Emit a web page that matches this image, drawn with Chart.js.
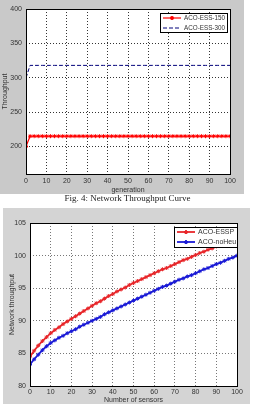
<!DOCTYPE html>
<html>
<head>
<meta charset="utf-8">
<script src="https://cdn.jsdelivr.net/npm/chart.js@4.4.0/dist/chart.umd.min.js"></script>
<style>
    html, body { margin: 0; padding: 0; background: #fff; width: 255px; height: 404px; overflow: hidden; }
    #topBox { position: absolute; left: 0; top: 0; width: 244px; height: 194px; background: #c9c9c9; }
    #botBox { position: absolute; left: 3px; top: 208px; width: 247px; height: 196px; background: #d4d4d4; }
    #caption { position: absolute; left: 0; top: 193px; width: 255px; text-align: center;
               font: 9px "Liberation Serif", serif; color: #222; }
</style>
</head>
<body>
<div id="topBox"><canvas id="topChart" width="244" height="194"></canvas></div>
<div id="caption">Fig. 4: Network Throughput Curve</div>
<div id="botBox"><canvas id="botChart" width="247" height="196"></canvas></div>
<script>
// Fig. 4 - throughput over generations
const generations = [0, 2, 4, 6, 8, 10, 12, 14, 16, 18, 20, 22, 24, 26, 28, 30, 32, 34, 36, 38, 40,
    42, 44, 46, 48, 50, 52, 54, 56, 58, 60, 62, 64, 66, 68, 70, 72, 74, 76, 78, 80,
    82, 84, 86, 88, 90, 92, 94, 96, 98, 100];
const ess150 = [200, 215, 215, 215, 215, 215, 215, 215, 215, 215, 215, 215, 215, 215, 215, 215, 215,
    215, 215, 215, 215, 215, 215, 215, 215, 215, 215, 215, 215, 215, 215, 215, 215, 215,
    215, 215, 215, 215, 215, 215, 215, 215, 215, 215, 215, 215, 215, 215, 215, 215, 215];
const ess300 = [300, 318, 318, 318, 318, 318, 318, 318, 318, 318, 318, 318, 318, 318, 318, 318, 318,
    318, 318, 318, 318, 318, 318, 318, 318, 318, 318, 318, 318, 318, 318, 318, 318, 318,
    318, 318, 318, 318, 318, 318, 318, 318, 318, 318, 318, 318, 318, 318, 318, 318, 318];
const topYTicks = [200, 250, 300, 350, 400];

// second figure - throughput vs number of sensors
const sensors = [0, 2, 4, 6, 8, 10, 12, 14, 16, 18, 20, 22, 24, 26, 28, 30, 32, 34, 36, 38, 40,
    42, 44, 46, 48, 50, 52, 54, 56, 58, 60, 62, 64, 66, 68, 70, 72, 74, 76, 78, 80,
    82, 84, 86, 88, 90, 92, 94, 96, 98, 100];
const essp = [84.5, 85.4, 86.2, 86.9, 87.5, 88.1, 88.6, 89.0, 89.5, 89.9, 90.3, 90.7, 91.1, 91.5,
    91.9, 92.3, 92.7, 93.0, 93.4, 93.8, 94.1, 94.5, 94.8, 95.1, 95.5, 95.8, 96.1, 96.4, 96.7,
    97.0, 97.3, 97.6, 97.9, 98.1, 98.4, 98.7, 99.0, 99.3, 99.5, 99.8, 100.1, 100.4, 100.6,
    100.9, 101.1, 101.4, 101.7, 101.9, 102.2, 102.4, 102.7];
const noHeu = [83.3, 84.1, 84.8, 85.5, 86.1, 86.6, 87.0, 87.4, 87.7, 88.1, 88.4, 88.7, 89.1, 89.4,
    89.7, 90.0, 90.3, 90.6, 91.0, 91.3, 91.6, 91.9, 92.2, 92.5, 92.8, 93.1, 93.4, 93.7, 94.0,
    94.3, 94.6, 94.9, 95.2, 95.4, 95.7, 96.0, 96.3, 96.5, 96.8, 97.0, 97.3, 97.6, 97.9, 98.1,
    98.4, 98.7, 98.9, 99.2, 99.5, 99.7, 100.0];

const tickFont = { family: 'Liberation Sans', size: 7 };

function toPoints(xs, ys) {
    return xs.map((x, i) => ({ x: x, y: ys[i] }));
}

// matlab style box + legend drawn inside the plot
const matlabBox = {
    id: 'matlabBox',
    beforeDraw(chart) {
        const a = chart.chartArea;
        const ctx = chart.ctx;
        ctx.save();
        ctx.fillStyle = '#fff';
        ctx.fillRect(a.left, a.top, a.right - a.left, a.bottom - a.top);
        ctx.restore();
    },
    afterDraw(chart, args, opts) {
        const a = chart.chartArea;
        const ctx = chart.ctx;
        ctx.save();
        ctx.strokeStyle = '#000';
        ctx.lineWidth = 1;
        ctx.strokeRect(Math.round(a.left) + 0.5, Math.round(a.top) + 0.5,
            Math.round(a.right - a.left), Math.round(a.bottom - a.top));

        // legend
        const lg = opts.legend;
        const bx = a.right - lg.right - lg.width;
        const by = a.top + lg.top;
        ctx.fillStyle = '#fff';
        ctx.fillRect(bx, by, lg.width, lg.height);
        ctx.strokeRect(Math.round(bx) + 0.5, Math.round(by) + 0.5, lg.width, lg.height);
        ctx.font = lg.fontSize + 'px "Liberation Sans"';
        ctx.textBaseline = 'middle';
        chart.data.datasets.forEach((ds, i) => {
            const y = by + lg.rowTop + i * lg.rowGap;
            ctx.strokeStyle = ds.borderColor;
            ctx.lineWidth = ds.borderWidth;
            ctx.setLineDash(ds.borderDash || []);
            ctx.beginPath();
            ctx.moveTo(bx + 3, y);
            ctx.lineTo(bx + 3 + lg.sample, y);
            ctx.stroke();
            ctx.setLineDash([]);
            if (ds.pointRadius > 0) {
                Chart.helpers.drawPoint(ctx, {
                    pointStyle: ds.pointStyle, radius: ds.pointRadius, borderWidth: 1
                }, bx + 3 + lg.sample / 2, y);
            }
            ctx.fillStyle = '#333';
            ctx.fillText(ds.label, bx + 6 + lg.sample, y);
        });
        ctx.restore();
    }
};

function makeScales(opts) {
    return {
        x: {
            type: 'linear', min: 0, max: 100,
            afterFit: (s) => { s.height = opts.xHeight; },
            border: { display: false, dash: [1, 2] },
            grid: { color: opts.gridColor, lineWidth: 1, drawTicks: false },
            ticks: { stepSize: 10, font: tickFont, color: '#333', padding: opts.xPad, maxRotation: 0 },
            title: { display: true, text: opts.xTitle, font: tickFont, color: '#333', padding: 0 }
        },
        y: {
            type: 'linear', min: opts.yMin, max: opts.yMax,
            afterFit: (s) => { s.width = opts.yWidth; },
            afterBuildTicks: opts.yTicks ? (s) => { s.ticks = opts.yTicks.map((v) => ({ value: v })); } : undefined,
            border: { display: false, dash: [1, 2] },
            grid: { color: opts.gridColor, lineWidth: 1, drawTicks: false },
            ticks: { stepSize: 5, font: tickFont, color: '#333', padding: 4 },
            title: { display: true, text: opts.yTitle, font: tickFont, color: '#333',
                     padding: { top: opts.yTitlePad, bottom: 0 } }
        }
    };
}

Chart.defaults.animation = false;

new Chart(document.getElementById('topChart'), {
    type: 'line',
    data: {
        datasets: [
            {
                label: 'ACO-ESS-150',
                data: toPoints(generations, ess150),
                borderColor: '#ff0000',
                backgroundColor: '#ff0000',
                borderWidth: 1.2,
                pointStyle: 'star',
                pointRadius: 2,
                pointBorderWidth: 1
            },
            {
                label: 'ACO-ESS-300',
                data: toPoints(generations, ess300),
                borderColor: '#00007a',
                borderWidth: 1,
                borderDash: [4, 2],
                pointRadius: 0
            }
        ]
    },
    options: {
        responsive: false,
        layout: { padding: { left: 0, right: 14, top: 9, bottom: 0 } },
        plugins: {
            legend: { display: false },
            tooltip: { enabled: false },
            matlabBox: { legend: { right: 3, top: 4, width: 67, height: 19, rowTop: 5, rowGap: 10, sample: 18, fontSize: 6.3 } }
        },
        scales: makeScales({
            xHeight: 20, xPad: 3, xTitle: 'generation', gridColor: '#333',
            yWidth: 26, yMin: 160, yMax: 400, yTicks: topYTicks, yTitle: 'Throughput', yTitlePad: 1
        })
    },
    plugins: [matlabBox]
});

new Chart(document.getElementById('botChart'), {
    type: 'line',
    data: {
        datasets: [
            {
                label: 'ACO-ESSP',
                data: toPoints(sensors, essp),
                borderColor: '#e8262a',
                backgroundColor: '#e8262a',
                borderWidth: 1.8,
                pointStyle: 'star',
                pointRadius: 2,
                pointBorderWidth: 1
            },
            {
                label: 'ACO-noHeu',
                data: toPoints(sensors, noHeu),
                borderColor: '#1a1ad6',
                backgroundColor: '#1a1ad6',
                borderWidth: 1.8,
                pointStyle: 'star',
                pointRadius: 2,
                pointBorderWidth: 1
            }
        ]
    },
    options: {
        responsive: false,
        layout: { padding: { left: 0, right: 13, top: 15, bottom: 0 } },
        plugins: {
            legend: { display: false },
            tooltip: { enabled: false },
            matlabBox: { legend: { right: 0, top: 4, width: 63, height: 20, rowTop: 5, rowGap: 10, sample: 18, fontSize: 7 } }
        },
        scales: makeScales({
            xHeight: 18, xPad: 2, xTitle: 'Number of sensors', gridColor: '#777',
            yWidth: 27, yMin: 80, yMax: 105, yTitle: 'Network throughput', yTitlePad: 5
        })
    },
    plugins: [matlabBox]
});
</script>
</body>
</html>
